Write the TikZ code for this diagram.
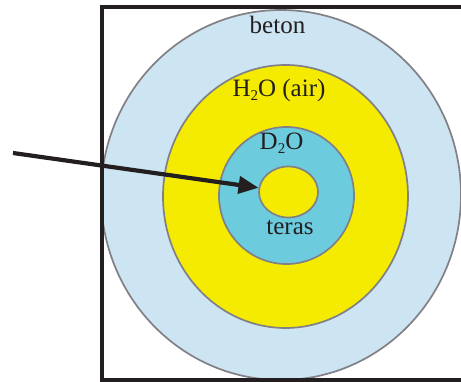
\documentclass[tikz,border=0pt]{standalone}
\usepackage{fontspec}
\setmainfont{Liberation Serif}
\usetikzlibrary{shapes.geometric,arrows.meta}
\definecolor{betonblue}{RGB}{205,228,242}
\definecolor{airyellow}{RGB}{245,235,0}
\definecolor{dcyan}{RGB}{108,204,221}
\definecolor{rimgray}{RGB}{128,128,134}
\definecolor{inkblack}{RGB}{35,31,32}
\tikzset{
  ring/.style={ellipse, draw=rimgray, line width=1.7pt, inner sep=0pt},
  lbl/.style={anchor=base, inner sep=0pt, text=inkblack, font=\fontsize{25}{28}\selectfont},
  frame/.style={draw=inkblack, line width=4pt},
  pointer/.style={draw=inkblack, line width=4.2pt, -{Triangle[length=20pt,width=17pt]}}
}
\newcommand{\subtwo}{\raisebox{-0.3ex}{\fontsize{15}{15}\selectfont 2}}
\begin{document}
\begin{tikzpicture}[x=1pt,y=-1pt]
\useasboundingbox (0,0) rectangle (461,382);
\clip (0,0) rectangle (461,382);
\node[ring, fill=betonblue, minimum width=360pt, minimum height=370pt] (outer) at (281,195) {};
\node[ring, fill=airyellow, minimum width=245pt, minimum height=263pt] (air) at (285.5,196.5) {};
\node[ring, fill=dcyan, minimum width=135pt, minimum height=137pt] (dwater) at (286.5,195.5) {};
\node[ring, fill=airyellow, minimum width=59pt, minimum height=51pt] (core) at (288.5,192) {};
\node[lbl] (tbeton) at (277.5,33.3) {beton};
\node[lbl] (tair) at (279,96.7) {H\subtwo O (air)};
\node[lbl] (td) at (281.5,150) {D\subtwo O};
\node[lbl] (tcore) at (290,235) {teras};
\draw[frame] (101.5,7) rectangle (480,380.5);
\coordinate (start) at (13,153);
\draw[pointer] (start) -- (core);
\end{tikzpicture}
\end{document}
